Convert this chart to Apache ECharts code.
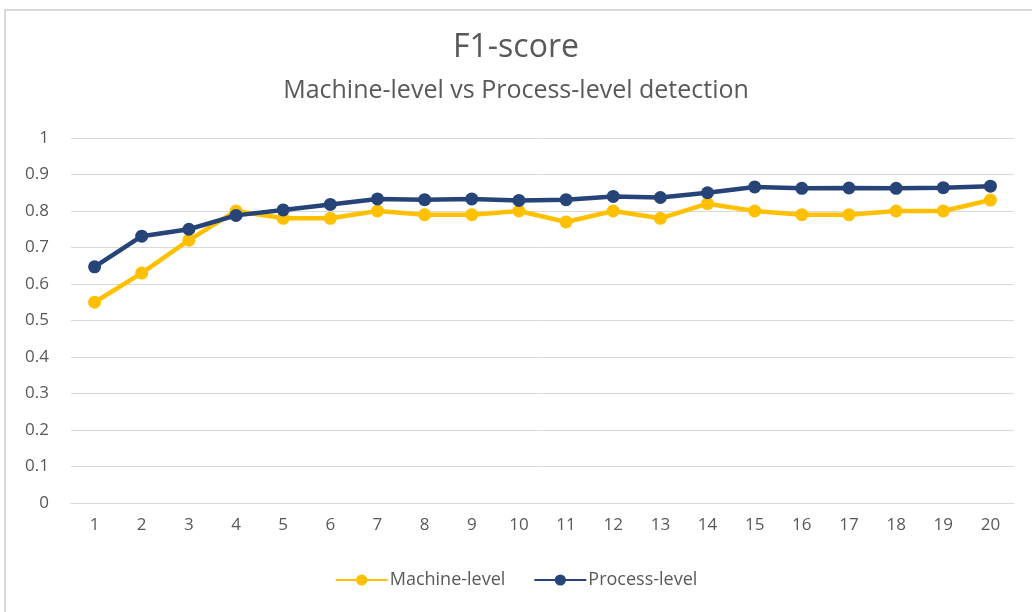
<!DOCTYPE html>
<html>
<head>
<meta charset="utf-8">
<script src="https://cdn.jsdelivr.net/npm/echarts@6/dist/echarts.min.js"></script>
<style>
  html, body { margin: 0; padding: 0; background: #fff; }
  #frame {
    position: absolute; left: 4px; top: 9px; width: 1040px; height: 620px;
    border-left: 2px solid #d9d9d9; border-top: 2px solid #d9d9d9;
  }
  #chart { position: absolute; left: 0; top: 0; width: 1032px; height: 612px; }
</style>
</head>
<body>
<div id="frame"></div>
<div id="chart"></div>
<script>
// 数据
const epochs = ['1','2','3','4','5','6','7','8','9','10','11','12','13','14','15','16','17','18','19','20']
const machineLevel = [0.55, 0.63, 0.72, 0.80, 0.78, 0.78, 0.80, 0.79, 0.79, 0.80, 0.77, 0.80, 0.78, 0.82, 0.80, 0.79, 0.79, 0.80, 0.80, 0.83]
const processLevel = [0.647, 0.731, 0.750, 0.788, 0.803, 0.818, 0.833, 0.831, 0.833, 0.829, 0.831, 0.840, 0.837, 0.850, 0.866, 0.862, 0.863, 0.862, 0.864, 0.868]
const yTicks = [0, 0.1, 0.2, 0.3, 0.4, 0.5, 0.6, 0.7, 0.8, 0.9, 1]

const font = '"Open Sans", "Noto Sans", sans-serif'
const textColor = '#595959'

const chart = echarts.init(document.getElementById('chart'))

const option = {
  backgroundColor: 'transparent',
  animation: false,
  textStyle: { fontFamily: font },
  title: [
    {
      text: 'F1-score',
      left: 'center',
      top: 27,
      textStyle: { fontFamily: font, fontSize: 32, fontWeight: 'normal', color: textColor }
    },
    {
      text: 'Machine-level vs Process-level detection',
      left: 'center',
      top: 73,
      textStyle: { fontFamily: font, fontSize: 25, fontWeight: 'normal', color: textColor }
    }
  ],
  legend: {
    bottom: 18,
    left: 'center',
    itemWidth: 52,
    itemHeight: 14,
    itemGap: 28,
    textStyle: { fontFamily: font, fontSize: 18, color: textColor, padding: [0, 0, 0, -3] },
    data: ['Machine-level', 'Process-level']
  },
  grid: {
    left: 71,
    right: 18,
    top: 138,
    bottom: 109
  },
  xAxis: {
    type: 'category',
    data: epochs,
    boundaryGap: true,
    axisLine: { lineStyle: { color: '#d9d9d9', width: 1 } },
    axisTick: { show: false },
    axisLabel: { color: textColor, fontSize: 17, fontFamily: font, margin: 14 }
  },
  yAxis: {
    type: 'value',
    min: yTicks[0],
    max: yTicks[yTicks.length - 1],
    interval: 0.1,
    axisLine: { show: false },
    axisTick: { show: false },
    axisLabel: {
      color: textColor, fontSize: 17, fontFamily: font, margin: 22,
      formatter: v => String(Math.round(v * 10) / 10)
    },
    splitLine: { lineStyle: { color: '#d9d9d9', width: 1 } }
  },
  series: [
    {
      name: 'Machine-level',
      type: 'line',
      data: machineLevel,
      symbol: 'circle',
      symbolSize: 13,
      lineStyle: { color: '#FFC000', width: 4.5 },
      itemStyle: { color: '#FFC000' }
    },
    {
      name: 'Process-level',
      type: 'line',
      data: processLevel,
      symbol: 'circle',
      symbolSize: 13,
      lineStyle: { color: '#264478', width: 4.5 },
      itemStyle: { color: '#264478' }
    }
  ]
}

chart.setOption(option)
</script>
</body>
</html>
